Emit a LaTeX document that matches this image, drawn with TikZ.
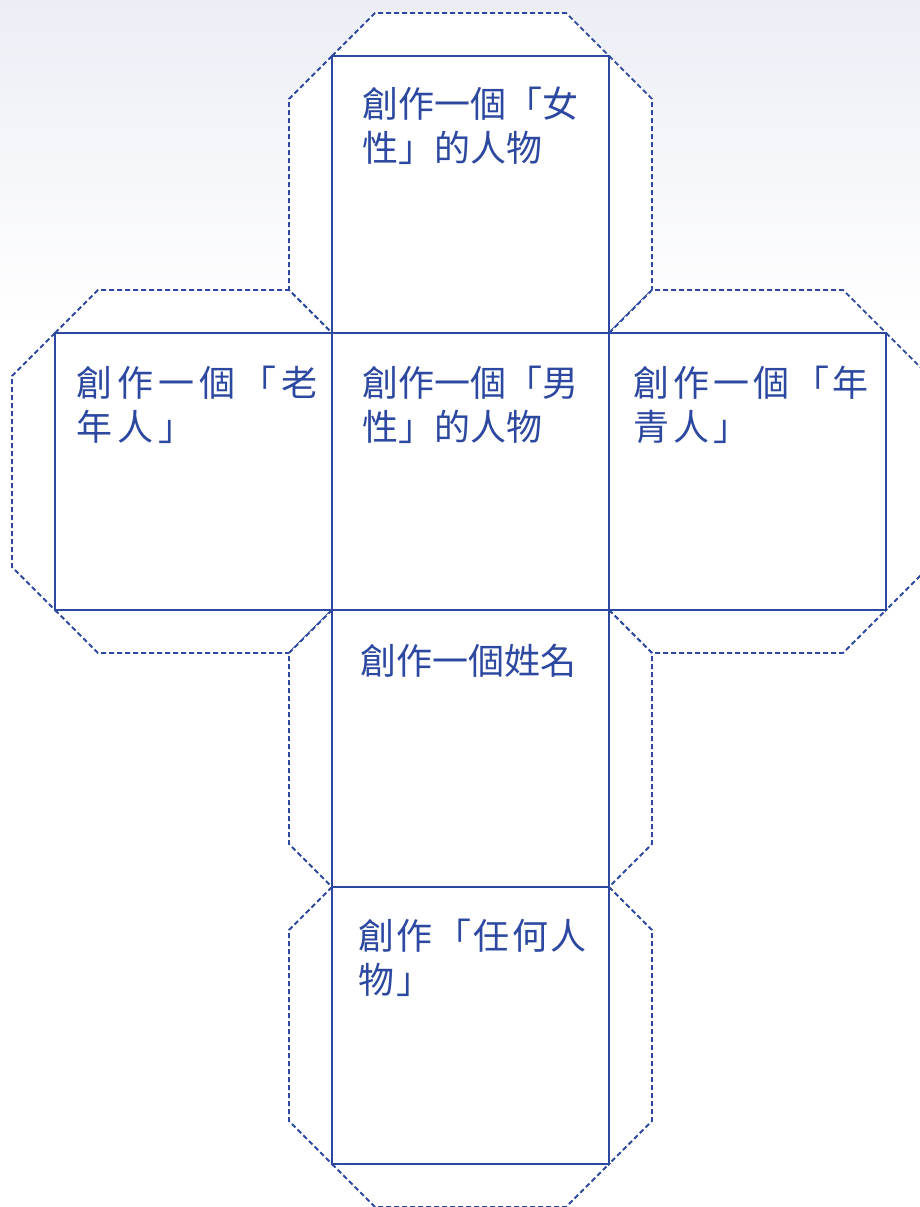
\documentclass[tikz,border=0pt]{standalone}
\usepackage{fontspec}
\newfontfamily\cjk{Noto Sans CJK TC}
\usepackage{xcolor}
\usepackage{tikz}
\usetikzlibrary{positioning,calc}

\definecolor{netblue}{RGB}{44,72,160}
\definecolor{bgtop}{RGB}{236,238,246}

\begin{document}
\begin{tikzpicture}[
    x=1pt, y=1pt,
    node distance=0pt,
    face/.style={fill=white, minimum size=277pt, inner sep=0pt, outer sep=0pt},
    border/.style={draw=netblue, line width=2.4pt},
    flap/.style={draw=netblue, line width=1.8pt, dash pattern=on 5pt off 3pt, fill=white},
    facetext/.style={anchor=base west, align=left, inner sep=0pt, text=netblue,
                     font=\cjk\fontsize{36}{44}\selectfont},
    spaced/.style={font=\cjk\fontsize{36}{44}\selectfont\addfontfeature{LetterSpace=#1}}
]
\useasboundingbox (0,0) rectangle (920,1207);
\clip (0,0) rectangle (920,1207);

% Background
\fill[top color=bgtop, bottom color=white] (0,880) rectangle (920,1207);

% Faces of the net
\node[face] (centre) at (470.5,735.5) {};
\node[face, above=of centre] (top) {};
\node[face, left=of centre] (left) {};
\node[face, right=of centre] (right) {};
\node[face, below=of centre] (bottom) {};
\node[face, below=of bottom] (last) {};

% Glue flaps
\foreach \a/\b/\nx/\ny in {
    top.north west/top.north east/0/43,
    top.north west/top.south west/-43/0,
    top.north east/top.south east/43/0,
    left.north west/left.north east/0/43,
    left.north west/left.south west/-43/0,
    left.south west/left.south east/0/-43,
    right.north west/right.north east/0/43,
    right.north east/right.south east/43/0,
    right.south west/right.south east/0/-43,
    bottom.north west/bottom.south west/-43/0,
    bottom.north east/bottom.south east/43/0,
    last.north west/last.south west/-43/0,
    last.north east/last.south east/43/0,
    last.south west/last.south east/0/-43}
{
  \draw[flap] (\a) -- ($(\a)!43pt!(\b)+(\nx,\ny)$) -- ($(\b)!43pt!(\a)+(\nx,\ny)$) -- (\b) -- cycle;
}

% Face borders over the flaps
\foreach \f in {centre,top,left,right,bottom,last}
  \draw[border] (\f.north west) rectangle (\f.south east);

% Texts (base is the last line)
\node[facetext] (toptext) at ([shift={(30,-106)}]top.north west) {創作一個「女\\性」的人物};
\node[facetext] (centretext) at ([shift={(30,-108)}]centre.north west) {創作一個「男\\性」的人物};
\node[facetext, spaced=14] (lefttext) at ([shift={(21,-108)}]left.north west) {創作一個「老\\年人」};
\node[facetext, spaced=11] (righttext) at ([shift={(24,-108)}]right.north west) {創作一個「年\\青人」};
\node[facetext] (bottomtext) at ([shift={(28,-65)}]bottom.north west) {創作一個姓名};
\node[facetext, spaced=7] (lasttext) at ([shift={(26,-107)}]last.north west) {創作「任何人\\物」};

\end{tikzpicture}
\end{document}
